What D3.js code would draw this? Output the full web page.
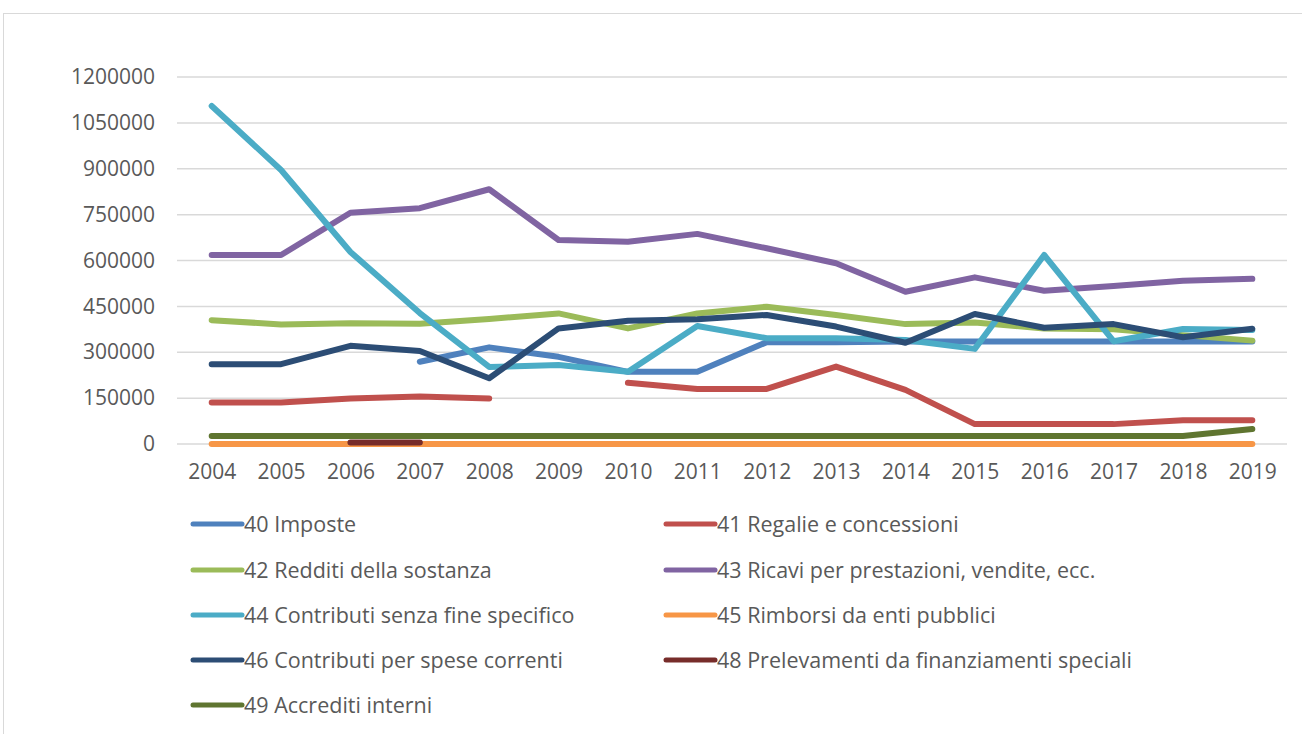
<!DOCTYPE html>
<html>
<head>
<meta charset="utf-8">
<script src="https://cdn.jsdelivr.net/npm/d3@7"></script>
<style>
  body { margin: 0; background: #fff; }
  svg { display: block; }
  text { font-family: "Open Sans", "Noto Sans", sans-serif; fill: #595959; }
</style>
</head>
<body>
<svg id="chart" width="1302" height="734"></svg>
<script>
const years = [2004, 2005, 2006, 2007, 2008, 2009, 2010, 2011, 2012, 2013, 2014, 2015, 2016, 2017, 2018, 2019];
const yTicks = [0, 150000, 300000, 450000, 600000, 750000, 900000, 1050000, 1200000];

const imposte     = [null, null, null, 269000, 316000, 285000, 236000, 236000, 333000, 333000, 335000, 335000, 335000, 335000, 335000, 335000];
const regalie     = [136000, 136000, 149000, 155000, 149000, null, 200000, 180000, 180000, 253000, 177000, 65000, 65000, 65000, 78000, 78000];
const redditi     = [405000, 391000, 395000, 393000, 409000, 427000, 378000, 427000, 449000, 422000, 392000, 397000, 378000, 375000, 356000, 338000];
const ricavi      = [618000, 618000, 756000, 771000, 833000, 667000, 661000, 687000, 640000, 591000, 498000, 545000, 501000, 517000, 534000, 540000];
const contributi  = [1105000, 896000, 628000, 428000, 252000, 258000, 236000, 386000, 346000, 346000, 340000, 311000, 618000, 336000, 376000, 373000];
const rimborsi    = [0, 0, 0, 0, 0, 0, 0, 0, 0, 0, 0, 0, 0, 0, 0, 0];
const correnti    = [261000, 261000, 321000, 304000, 215000, 378000, 403000, 408000, 422000, 384000, 331000, 425000, 380000, 392000, 349000, 377000];
const prelevamenti = [null, null, 5000, 5000, null, null, null, null, null, null, null, null, null, null, null, null];
const accrediti   = [26000, 26000, 26000, 26000, 26000, 26000, 26000, 26000, 26000, 26000, 26000, 26000, 26000, 26000, 26000, 49000];

const series = [
    {name: "40 Imposte", values: imposte, color: "#4F81BD"},
    {name: "41 Regalie e concessioni", values: regalie, color: "#C0504D"},
    {name: "42 Redditi della sostanza", values: redditi, color: "#9BBB59"},
    {name: "43 Ricavi per prestazioni, vendite, ecc.", values: ricavi, color: "#8064A2"},
    {name: "44 Contributi senza fine specifico", values: contributi, color: "#4BACC6"},
    {name: "45 Rimborsi da enti pubblici", values: rimborsi, color: "#F79646"},
    {name: "46 Contributi per spese correnti", values: correnti, color: "#2C4D75"},
    {name: "48 Prelevamenti da finanziamenti speciali", values: prelevamenti, color: "#772C2A"},
    {name: "49 Accrediti interni", values: accrediti, color: "#5F7530"}
];

const svg = d3.select("#chart");

// chart border
svg.append("rect")
    .attr("x", 3.5).attr("y", 13.5)
    .attr("width", 1320).attr("height", 740)
    .attr("fill", "none")
    .attr("stroke", "#d9d9d9")
    .attr("stroke-width", 1);

const plot = {left: 177, right: 1287, top: 77, bottom: 444};

const x = d3.scalePoint()
    .domain(years)
    .range([plot.left, plot.right])
    .padding(0.5);

const y = d3.scaleLinear()
    .domain([0, 1200000])
    .range([plot.bottom, plot.top]);

// gridlines
svg.append("g")
    .selectAll("line")
    .data(yTicks)
    .join("line")
    .attr("x1", plot.left).attr("x2", plot.right)
    .attr("y1", d => y(d)).attr("y2", d => y(d))
    .attr("stroke", "#d9d9d9")
    .attr("stroke-width", 1.5);

// y axis labels
const yAxis = svg.append("g")
    .attr("transform", `translate(${plot.left - 22},0)`)
    .call(d3.axisLeft(y).tickValues(yTicks).tickSize(0).tickFormat(d3.format("d")));
yAxis.select(".domain").remove();
yAxis.selectAll("text")
    .attr("x", 0)
    .style("font-size", "21px")
    .attr("fill", "#595959");

// x axis labels
const xAxis = svg.append("g")
    .attr("transform", `translate(0,${plot.bottom + 20})`)
    .call(d3.axisBottom(x).tickSize(0).tickFormat(d3.format("d")));
xAxis.select(".domain").remove();
xAxis.selectAll("text")
    .attr("y", 0)
    .style("font-size", "21px")
    .attr("fill", "#595959");

// lines
const line = d3.line()
    .defined(d => d.v != null)
    .x(d => x(d.year))
    .y(d => y(d.v));

svg.append("g")
    .selectAll("path")
    .data(series)
    .join("path")
    .attr("d", s => line(years.map((yr, i) => ({year: yr, v: s.values[i]}))))
    .attr("fill", "none")
    .attr("stroke", s => s.color)
    .attr("stroke-width", 6)
    .attr("stroke-linejoin", "round")
    .attr("stroke-linecap", "round");

// legend
const legendCols = [193, 666];
const legendRows = [524, 570, 615, 660, 705];
const legend = svg.append("g")
    .selectAll("g")
    .data(series)
    .join("g")
    .attr("transform", (d, i) => `translate(${legendCols[i % 2]},${legendRows[Math.floor(i / 2)]})`);

legend.append("line")
    .attr("x1", 0).attr("x2", 49)
    .attr("y1", 0).attr("y2", 0)
    .attr("stroke", d => d.color)
    .attr("stroke-width", 5)
    .attr("stroke-linecap", "round");

legend.append("text")
    .attr("x", 51)
    .attr("dy", "0.35em")
    .style("font-size", "21.5px")
    .text(d => d.name);
</script>
</body>
</html>
